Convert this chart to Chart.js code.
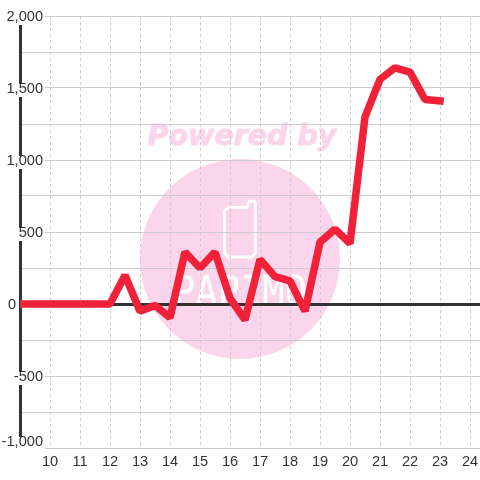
<!DOCTYPE html>
<html><head><meta charset="utf-8">
<style>html,body{margin:0;padding:0;background:#fff}canvas{display:block}</style>
<script src="https://cdn.jsdelivr.net/npm/chart.js@4"></script>
</head><body><canvas id="c" width="480" height="480"></canvas>
<script>
const hours = [9,12,12.5,13,13.5,14,14.5,15,15.5,16,16.5,17,17.5,18,18.5,19,19.5,20,20.5,21,21.5,22,22.5,23];
const values = [0,0,200,-50,-10,-95,360,250,360,40,-110,310,190,160,-50,430,520,420,1300,1560,1640,1610,1420,1410];
const xTicks = [10,11,12,13,14,15,16,17,18,19,20,21,22,23,24];
const yTicks = [-1000,-750,-500,-250,0,250,500,750,1000,1250,1500,1750,2000];
const yLabels = [-1000,-500,0,500,1000,1500,2000];
const pink = '#fbd5ec';
const labelFont = '14.6px "Liberation Sans"';

const watermark = {
  id:'watermark',
  beforeDraw(chart){
    const c = chart.ctx;
    c.save();
    c.fillStyle = pink;
    c.beginPath(); c.arc(240,259,100,0,Math.PI*2); c.fill();
    c.font = 'italic bold 28.5px "DejaVu Sans"';
    c.textAlign='center'; c.textBaseline='alphabetic';
    c.strokeStyle=pink; c.lineWidth=1; c.lineJoin='round';
    c.strokeText('Powered by',242,145);
    c.fillText('Powered by',242,145);
    c.strokeStyle='#fff'; c.lineWidth=2.8;
    c.beginPath();
    c.moveTo(229,207.5); c.lineTo(247,207.5); c.lineTo(249,201); c.lineTo(254,201);
    c.lineTo(255.5,203); c.lineTo(255.5,253); c.lineTo(252,257); c.lineTo(228,257);
    c.lineTo(224.5,253); c.lineTo(224.5,211); c.closePath(); c.stroke();
    c.fillStyle='#fff';
    c.font='42px "DejaVu Sans Mono"';
    c.fillText('PAPIMO',240,306,134);
    c.restore();
  }
};
const yAxisLabels = {
  id:'yAxisLabels',
  beforeDatasetsDraw(chart){
    const c = chart.ctx, s = chart.scales.y, bottom = chart.chartArea.bottom;
    c.save();
    c.font = labelFont; c.textAlign='right'; c.textBaseline='middle';
    yLabels.forEach(v=>{
      const y = Math.min(s.getPixelForValue(v), bottom-7), t = v.toLocaleString('en-US');
      const w = c.measureText(t).width;
      c.fillStyle = '#fff';
      if (v!==0) c.fillRect(43-w-2, y-4, w+4, 13);
      c.fillStyle = '#333';
      c.fillText(t, v===0 ? 16 : 43, y+1);
    });
    c.restore();
  }
};

new Chart(document.getElementById('c'),{
  type:'line',
  data:{datasets:[{
    data:hours.map((h,i)=>({x:h,y:values[i]})),
    borderColor:'#f02138',borderWidth:7.5,tension:0,pointRadius:0,
    borderJoinStyle:'bevel',borderCapStyle:'square',fill:false
  }]},
  plugins:[watermark,yAxisLabels],
  options:{
    responsive:false,animation:false,
    layout:{padding:{top:16,left:0,right:0,bottom:0}},
    plugins:{legend:{display:false},tooltip:{enabled:false},title:{display:false}},
    scales:{
      x:{type:'linear',min:9,max:24.333,
        afterBuildTicks(s){s.ticks=xTicks.map(v=>({value:v}));},
        afterFit(s){s.height=32;s.paddingRight=0;s.paddingLeft=0;},
        grid:{color:'#ccc',lineWidth:1,drawTicks:false,tickLength:0},
        border:{display:false,dash:[3,3]},
        ticks:{autoSkip:false,maxRotation:0,color:'#333',font:{family:'"Liberation Sans"',size:14.6},padding:5}
      },
      y:{type:'linear',min:-1000,max:2000,
        afterBuildTicks(s){s.ticks=yTicks.map(v=>({value:v}));},
        afterFit(s){s.width=20;},
        grid:{
          color:c=>c.tick&&c.tick.value===0?'#333':'#ccc',
          lineWidth:c=>c.tick&&c.tick.value===0?3:1,
          drawTicks:false,tickLength:0
        },
        border:{display:true,color:'#333',width:3},
        ticks:{display:false}
      }
    }
  }
});
</script></body></html>
